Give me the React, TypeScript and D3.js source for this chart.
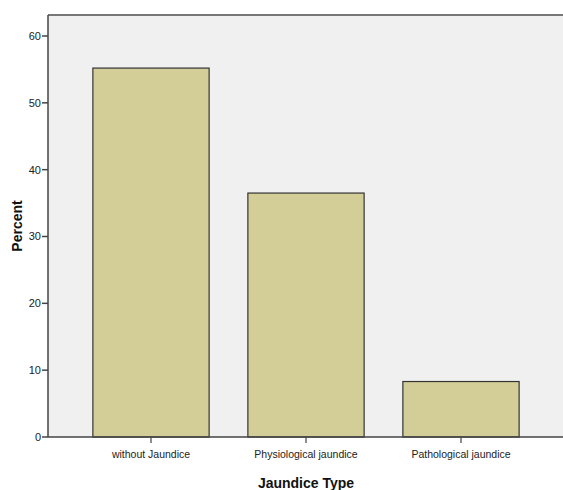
import React from "react";
import * as d3 from "d3";

const categories = ["without Jaundice", "Physiological jaundice", "Pathological jaundice"];
const percents = [55.2, 36.5, 8.3];
const yTicks = [0, 10, 20, 30, 40, 50, 60];

export default function App() {
  const W = 563, H = 490;
  const left = 48, top = 15, right = 570, bottom = 437;
  const y = d3.scaleLinear().domain([0, 60]).range([bottom, 36]);
  const x = d3.scaleBand<string>().domain(categories).range([73.5, 538.5]).paddingInner(0.25).paddingOuter(0.125);
  const font = "'Liberation Sans', Arial, sans-serif";
  return (
    <svg width={W} height={H} style={{ position: "absolute", left: 0, top: 0, background: "#fff" }}>
      <rect x={left} y={top} width={right - left} height={bottom - top} fill="#F0F0F0" />
      <line x1={left} x2={right} y1={top} y2={top} stroke="#777" strokeWidth={2} />
      {percents.map((v, i) => (
        <rect key={i} x={x(categories[i])} y={y(v)} width={x.bandwidth()} height={bottom - y(v)}
          fill="#D3CE97" stroke="#333" strokeWidth={1.2} />
      ))}
      <line x1={left} x2={left} y1={top} y2={bottom} stroke="#444" strokeWidth={1.5} />
      <line x1={left} x2={right} y1={bottom} y2={bottom} stroke="#444" strokeWidth={1.5} />
      {yTicks.map((t) => (
        <g key={t}>
          <line x1={left - 6} x2={left} y1={y(t)} y2={y(t)} stroke="#444" strokeWidth={1.5} />
          <text x={left - 7} y={y(t)} dy="0.35em" textAnchor="end" fontFamily={font} fontSize={11} fill="#222">{t}</text>
        </g>
      ))}
      {categories.map((c) => {
        const cx = (x(c) as number) + x.bandwidth() / 2;
        return (
          <g key={c}>
            <line x1={cx} x2={cx} y1={bottom} y2={bottom + 6} stroke="#444" strokeWidth={1.2} />
            <text x={cx} y={bottom + 21} textAnchor="middle" fontFamily={font} fontSize={10.5} fill="#222">{c}</text>
          </g>
        );
      })}
      <text x={306} y={488} textAnchor="middle" fontFamily={font} fontSize={14} fontWeight="bold" fill="#111">Jaundice Type</text>
      <text transform="translate(22,226) rotate(-90)" textAnchor="middle" fontFamily={font} fontSize={14} fontWeight="bold" fill="#111">Percent</text>
    </svg>
  );
}
